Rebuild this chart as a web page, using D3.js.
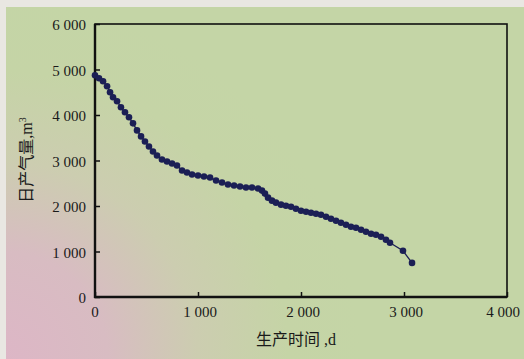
<!DOCTYPE html>
<html><head><meta charset="utf-8">
<script src="https://cdn.jsdelivr.net/npm/d3@7"></script>
<style>html,body{margin:0;padding:0;background:#e8e6df;}svg{display:block;}</style>
</head><body>
<script>
// Data
const days = [0,39,78,117,146,175,214,252,291,330,369,408,447,485,524,563,602,650,699,748,796,845,893,942,1000,1058,1117,1175,1233,1291,1350,1408,1466,1524,1583,1621,1650,1680,1718,1757,1806,1854,1903,1951,2000,2049,2097,2146,2194,2243,2291,2340,2388,2437,2485,2534,2583,2631,2680,2728,2777,2825,2864,2990,3078];
const gas  = [4875,4809,4743,4633,4500,4390,4302,4169,4059,3949,3816,3662,3530,3419,3309,3199,3110,3022,2978,2934,2890,2780,2735,2691,2669,2647,2625,2559,2515,2471,2449,2427,2405,2405,2383,2338,2272,2184,2118,2074,2030,2007,1985,1941,1897,1875,1853,1831,1809,1765,1721,1677,1632,1588,1544,1522,1478,1434,1390,1368,1324,1257,1191,1015,750];
const xTicks = [0,1000,2000,3000,4000];
const yTicks = [0,1000,2000,3000,4000,5000,6000];
const xTitle = "生产时间 ,d";
const yTitle = "日产气量,m";

const W = 524, H = 359;
const svg = d3.select("body").append("svg").attr("width", W).attr("height", H);
const defs = svg.append("defs");
const rg = defs.append("radialGradient").attr("id","bg").attr("gradientUnits","userSpaceOnUse")
  .attr("cx",0).attr("cy",H).attr("r",360);
rg.append("stop").attr("offset","0").attr("stop-color","#ddb6c6");
rg.append("stop").attr("offset","0.3").attr("stop-color","#d8bcc2");
rg.append("stop").attr("offset","0.55").attr("stop-color","#cccdb0");
rg.append("stop").attr("offset","0.8").attr("stop-color","#c5d4a6");
rg.append("stop").attr("offset","1").attr("stop-color","#c4d5a6");
svg.append("rect").attr("width",W).attr("height",H).attr("fill","#e9e7e2");
svg.append("rect").attr("x",6).attr("y",7).attr("width",W-6).attr("height",H-7).attr("fill","url(#bg)");

const x = d3.scaleLinear().domain([0,4000]).range([95,507]);
const y = d3.scaleLinear().domain([0,6000]).range([297,24]);

const fmt = d => d === 0 ? "0" : d3.format(",")(d).replace(",", " ");
const serif = "'Liberation Serif','Times New Roman',serif";

// frame
svg.append("rect").attr("x",x(0)).attr("y",y(6000)).attr("width",x(4000)-x(0)).attr("height",y(0)-y(6000))
  .attr("fill","none").attr("stroke","#111").attr("stroke-width",1.6);
svg.append("line").attr("x1",x(0)).attr("x2",x(0)).attr("y1",y(6000)).attr("y2",y(0)+1).attr("stroke","#111").attr("stroke-width",2.4);
svg.append("line").attr("x1",x(0)-1).attr("x2",x(4000)).attr("y1",y(0)).attr("y2",y(0)).attr("stroke","#111").attr("stroke-width",2.4);

const gx = svg.append("g").attr("transform",`translate(0,${y(0)})`)
  .call(d3.axisTop(x).tickValues(xTicks).tickSize(5).tickFormat(""));
gx.select(".domain").remove();
gx.selectAll("line").attr("stroke","#111").attr("stroke-width",1.5);
svg.append("g").selectAll("text").data(xTicks).join("text")
  .attr("x",d=>x(d)+ (d===0?0:(d===4000?-4:2))).attr("y",317).attr("text-anchor","middle")
  .attr("font-family",serif).attr("font-size",15).attr("fill","#1a1a1a").text(fmt);

const gy = svg.append("g").attr("transform",`translate(${x(0)},0)`)
  .call(d3.axisRight(y).tickValues(yTicks).tickSize(5).tickFormat(""));
gy.select(".domain").remove();
gy.selectAll("line").attr("stroke","#111").attr("stroke-width",1.5);
svg.append("g").selectAll("text").data(yTicks).join("text")
  .attr("x",86).attr("y",d=>y(d)+6).attr("text-anchor","end")
  .attr("font-family",serif).attr("font-size",15).attr("fill","#1a1a1a").text(fmt);

// titles
svg.append("text").attr("x",296).attr("y",345).attr("text-anchor","middle")
  .attr("font-family","'Liberation Serif','Noto Sans CJK SC',serif").attr("font-size",16).attr("fill","#1a1a1a")
  .text(xTitle);
const yt = svg.append("text").attr("transform","translate(32,160) rotate(-90)").attr("text-anchor","middle")
  .attr("font-family","'Liberation Serif','Noto Sans CJK SC',serif").attr("font-size",16).attr("fill","#1a1a1a");
yt.append("tspan").text(yTitle);
yt.append("tspan").attr("dy",-6).attr("font-size",10).text("3");

// series
const pts = days.map((d,i)=>[d,gas[i]]);
svg.append("path").datum(pts)
  .attr("d", d3.line().x(d=>x(d[0])).y(d=>y(d[1])))
  .attr("fill","none").attr("stroke","#1b1f55").attr("stroke-width",1.3);
svg.append("g").selectAll("circle").data(pts).join("circle")
  .attr("cx",d=>x(d[0])).attr("cy",d=>y(d[1])).attr("r",3.3).attr("fill","#1b1f55");
</script>
</body></html>
